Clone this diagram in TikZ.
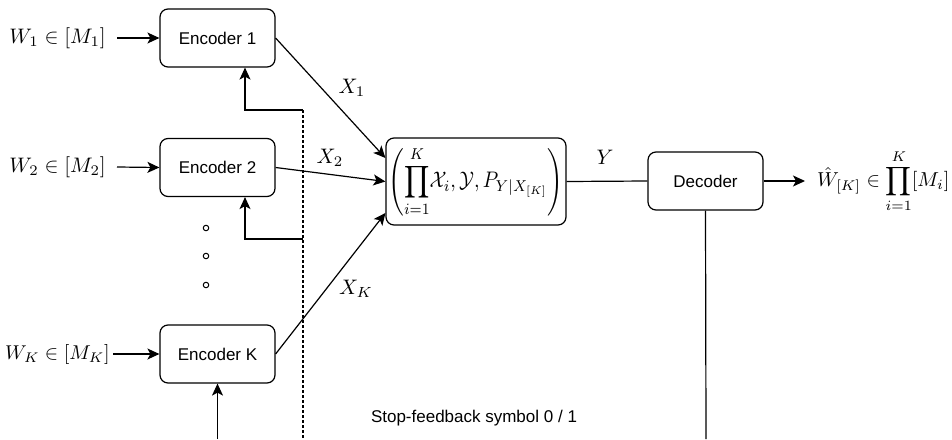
\documentclass[tikz,border=0pt]{standalone}
\usepackage{graphicx}
\usepackage{fontspec}
\newfontfamily\arialf{Liberation Sans}
\usetikzlibrary{arrows.meta}
\newcommand{\mscl}[1]{\scalebox{2.1}{#1}}
\begin{document}
\begin{tikzpicture}[x=1pt,y=-1pt,
  box/.style={draw,line width=1.2pt,rounded corners=8pt,minimum width=115pt,minimum height=58pt,font=\arialf\fontsize{17}{20}\selectfont,inner sep=0pt},
  conn/.style={line width=1.2pt},
  arr/.style={conn,-{Stealth[length=12pt,width=11pt,inset=3pt]}},
  ml/.style={inner sep=0pt,font=\normalsize},
  dot/.style={circle,draw,line width=1pt,inner sep=0pt,minimum size=5.5pt}]
\useasboundingbox (0,0) rectangle (952,439);
% encoders
\node[box] (e1) at (217.5,38) {Encoder 1};
\node[box] (e2) at (217.5,167.5) {Encoder 2};
\node[box] (eK) at (217.5,354) {Encoder K};
% channel and decoder
\node[box,minimum width=180pt,minimum height=87pt,font=\normalsize] (ch) at (476,181.5)
  {\scalebox{1.98}[2.25]{$\displaystyle\left(\prod_{i=1}^{K}\!\mathcal{X}_i,\mathcal{Y},P_{Y|X_{[K]}}\right)$}};
\node[box] (dec) at (705.5,181) {Decoder};
% inputs
\node[ml,anchor=east] (w1) at (106,38) {\mscl{$W_1\in[M_1]$}};
\node[ml,anchor=east] (w2) at (106,167) {\mscl{$W_2\in[M_2]$}};
\node[ml,anchor=east] (wK) at (110,354) {\scalebox{2.0}{$W_K\in[M_K]$}};
\draw[arr] ([xshift=11pt]w1.east) -- (e1.west);
\draw[arr] ([xshift=11pt]w2.east) -- (e2.west);
\draw[arr] ([xshift=3pt]wK.east) -- (eK.west);
% dots
\node[dot] (d1) at (206,228) {};
\node[dot] (d2) at (206,256) {};
\node[dot] (d3) at (206,285) {};
% feedback
\coordinate (f1) at (303,110);
\coordinate (f2) at (303,239);
\coordinate (fb) at (303,439);
\coordinate (bK) at (217.5,439);
\coordinate (bD) at (706,439);
\draw[conn,dash pattern=on 3pt off 2pt] (f1) -- (fb);
\draw[arr] (f1) -| ([xshift=27.5pt]e1.south);
\draw[arr] (f2) -| ([xshift=27.5pt]e2.south);
\draw[arr] (bK) -- (eK.south);
\draw[conn] (dec.south) -- (bD);
% channel inputs
\draw[arr] (e1.east) -- ([yshift=23.5pt]ch.west);
\draw[arr] (e2.east) -- (ch.west);
\draw[arr] (eK.east) -- ([yshift=-31.5pt]ch.west);
\node[ml] (lx1) at (352,88) {\mscl{$X_1$}};
\node[ml] (lx2) at (330,158) {\mscl{$X_2$}};
\node[ml] (lxK) at (356,289) {\mscl{$X_K$}};
% output
\draw[conn] (ch.east) -- (dec.west);
\node[ml] (ly) at (605,157) {\mscl{$Y$}};
\node[ml,anchor=west] (out) at (817,181) {\scalebox{2.02}{$\displaystyle\hat{W}_{[K]}\in\prod_{i=1}^{K}[M_i]$}};
\draw[arr] (dec.east) -- ([xshift=-12pt]out.west);
\node[font=\arialf\fontsize{17}{20}\selectfont,inner sep=0pt] (stop) at (474,418) {Stop-feedback symbol 0 / 1};
\end{tikzpicture}
\end{document}
